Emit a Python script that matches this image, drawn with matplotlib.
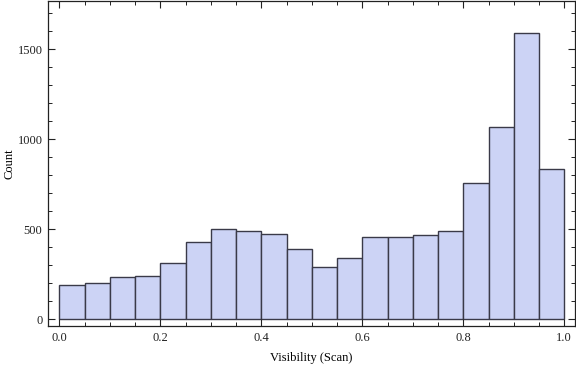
import numpy as np
import matplotlib
matplotlib.use("Agg")
from matplotlib import pyplot as plt
from matplotlib.ticker import MultipleLocator

# histogram of visibility, 20 bins of width 0.05
bin_edges = [round(0.05 * i, 2) for i in range(21)]
counts = [189, 200, 234, 240, 312, 427, 501, 490, 473, 390,
          290, 340, 460, 455, 468, 490, 757, 1069, 1593, 835]

x_label = "Visibility (Scan)"
y_label = "Count"

plt.rcParams['font.family'] = ['Liberation Serif', 'DejaVu Serif']

fig = plt.figure(figsize=(5.76, 3.66), dpi=100)
ax = fig.add_axes([0.0833, 0.1093, 0.9147, 0.8877])

lefts = np.array(bin_edges[:-1])
widths = np.diff(bin_edges)
ax.bar(lefts, counts, width=widths, align='edge', color='#ccd3f5',
       edgecolor='#3a3a48', linewidth=1.0)

ax.set_xlim(-0.0224, 1.021)
ax.set_ylim(-37, 1768)

ax.xaxis.set_major_locator(MultipleLocator(0.2))
ax.xaxis.set_minor_locator(MultipleLocator(0.05))
ax.yaxis.set_major_locator(MultipleLocator(500))
ax.yaxis.set_minor_locator(MultipleLocator(100))
ax.xaxis.set_major_formatter(plt.FuncFormatter(lambda v, p: f"{v:.1f}"))

ax.tick_params(which='both', direction='in', top=True, right=True,
               labelsize=9, colors='#222222')
ax.tick_params(which='major', length=5, width=0.8, pad=4)
ax.tick_params(which='minor', length=3, width=0.7)
for s in ax.spines.values():
    s.set_linewidth(0.9)
    s.set_color('#222222')

ax.set_xlabel(x_label, fontsize=9, labelpad=6)
ax.set_ylabel(y_label, fontsize=9)
ax.yaxis.set_label_coords(-0.062, 0.5)

plt.savefig("out.png", dpi=100)
